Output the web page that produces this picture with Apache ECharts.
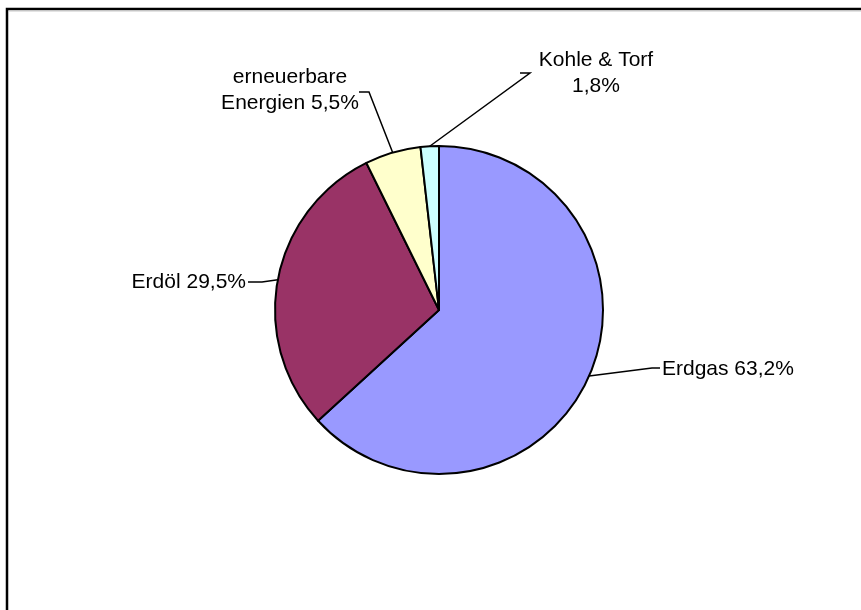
<!DOCTYPE html>
<html>
<head>
<meta charset="utf-8">
<style>
  html, body { margin: 0; padding: 0; background: #fff; }
  #chart { width: 861px; height: 610px; }
</style>
<script src="https://cdn.jsdelivr.net/npm/echarts@6/dist/echarts.min.js"></script>
</head>
<body>
<div id="chart"></div>
<script>
// Energy sources, share in percent
const categories = ['Erdgas', 'Erdöl', 'erneuerbare\nEnergien', 'Kohle & Torf'];
const shares = [63.2, 29.5, 5.5, 1.8];
const separators = [' ', ' ', ' ', '\n'];
const sliceColors = ['#9999FF', '#993366', '#FFFFCC', '#CCFFFF'];

// Where each callout sits: text anchor, alignment and the elbow of its leader line
const calloutLayout = [
  { x: 662, y: 369, align: 'left',   elbow: [[652, 368], [660, 368]] },
  { x: 246, y: 282, align: 'right',  elbow: [[262, 282], [248, 282]] },
  { x: 290, y: 90,  align: 'center', elbow: [[369, 92], [359, 92]] },
  { x: 596, y: 73,  align: 'center', elbow: [[530, 73], [520, 73]] }
];

const fmt = v => v.toFixed(1).replace('.', ',') + '%';

const chart = echarts.init(document.getElementById('chart'), null, { renderer: 'canvas' });

chart.setOption({
  animation: false,
  backgroundColor: '#ffffff',
  graphic: [
    {
      type: 'rect',
      shape: { x: 7, y: 9, width: 900, height: 700 },
      style: { fill: 'none', stroke: '#000', lineWidth: 2.5 },
      silent: true
    },
    {
      type: 'line',
      shape: { x1: 9, y1: 11, x2: 861, y2: 11 },
      style: { stroke: '#c8c8c8', lineWidth: 1 },
      silent: true
    }
  ],
  series: [{
    type: 'pie',
    center: [439, 310],
    radius: 164,
    startAngle: 90,
    clockwise: true,
    avoidLabelOverlap: false,
    emphasis: { disabled: true },
    itemStyle: { borderColor: '#000', borderWidth: 2 },
    label: {
      show: true,
      position: 'outside',
      color: '#000',
      fontFamily: 'Liberation Sans, Arial, sans-serif',
      fontSize: 21,
      lineHeight: 26.5,
      formatter: p => categories[p.dataIndex] + separators[p.dataIndex] + fmt(shares[p.dataIndex])
    },
    labelLine: {
      show: true,
      length: 10,
      length2: 10,
      lineStyle: { color: '#000', width: 1.5 }
    },
    labelLayout: params => {
      const c = calloutLayout[params.dataIndex];
      const start = params.labelLinePoints ? params.labelLinePoints[0] : null;
      const out = {
        x: c.x,
        y: c.y,
        align: c.align,
        verticalAlign: 'middle'
      };
      if (start) out.labelLinePoints = [start, c.elbow[0], c.elbow[1]];
      return out;
    },
    data: categories.map((name, i) => ({
      name: name,
      value: shares[i],
      itemStyle: { color: sliceColors[i] }
    }))
  }]
});
</script>
</body>
</html>
